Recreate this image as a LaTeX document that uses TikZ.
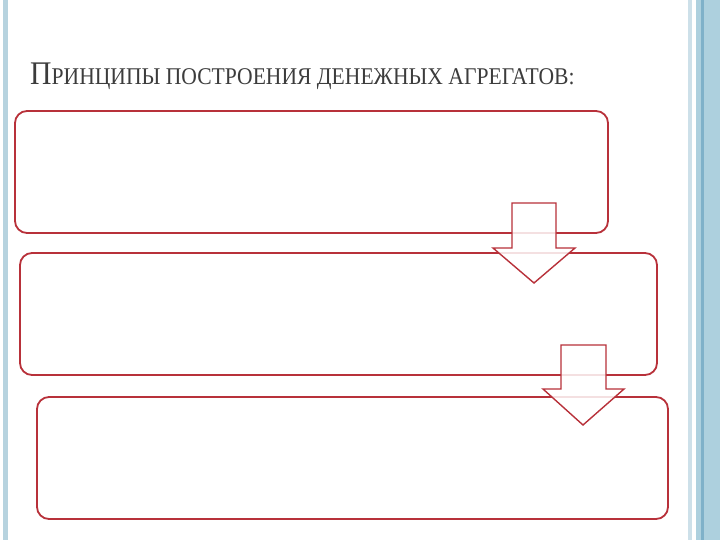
\documentclass[tikz,border=0pt]{standalone}
\usepackage{fontspec}
\setmainfont{Liberation Serif}
\usetikzlibrary{positioning}
\definecolor{boxred}{HTML}{B8313A}
\definecolor{stripblue}{HTML}{B7D3DF}
\definecolor{bandblue}{HTML}{ADD0DE}
\definecolor{lineblue}{HTML}{7FB1C9}
\definecolor{titlegray}{HTML}{3C3C3C}
\tikzset{
  stagebox/.style={draw=boxred, line width=1.8pt, rounded corners=12pt, fill=white},
  downarrow/.style={draw=boxred, line width=1.4pt, fill=white, fill opacity=0.85, line join=miter},
}
\begin{document}
\begin{tikzpicture}[x=1pt,y=-1pt]
\useasboundingbox (0,0) rectangle (720,540);
\fill[white] (0,0) rectangle (720,540);
% decorative strips
\fill[stripblue] (3,0) rectangle (8,540);
\fill[stripblue!70] (688,0) rectangle (692,540);
\fill[bandblue] (696,0) rectangle (720,540);
\fill[lineblue] (701,0) rectangle (704,540);
% title
\node[anchor=base west, inner sep=0, text=titlegray] (title) at (30,85)
  {\scalebox{0.9}[1]{\fontsize{33}{33}\selectfont П\fontsize{24}{24}\selectfont РИНЦИПЫ ПОСТРОЕНИЯ ДЕНЕЖНЫХ АГРЕГАТОВ:}};
% boxes
\draw[stagebox] (15,111) rectangle (608,233);
\node[inner sep=0] (b1) at (311.5,172) {};
\draw[stagebox] (20,253) rectangle (657,375);
\node[inner sep=0] (b2) at (338.5,314) {};
\draw[stagebox] (37,397) rectangle (668,519);
\node[inner sep=0] (b3) at (352.5,458) {};
% arrows
\draw[downarrow] (512,203) -- (556,203) -- (556,248) -- (575,248) -- (534,283) -- (493,248) -- (512,248) -- cycle;
\draw[downarrow] (561,345) -- (606,345) -- (606,389) -- (624,389) -- (583,425) -- (543,389) -- (561,389) -- cycle;
\end{tikzpicture}
\end{document}
